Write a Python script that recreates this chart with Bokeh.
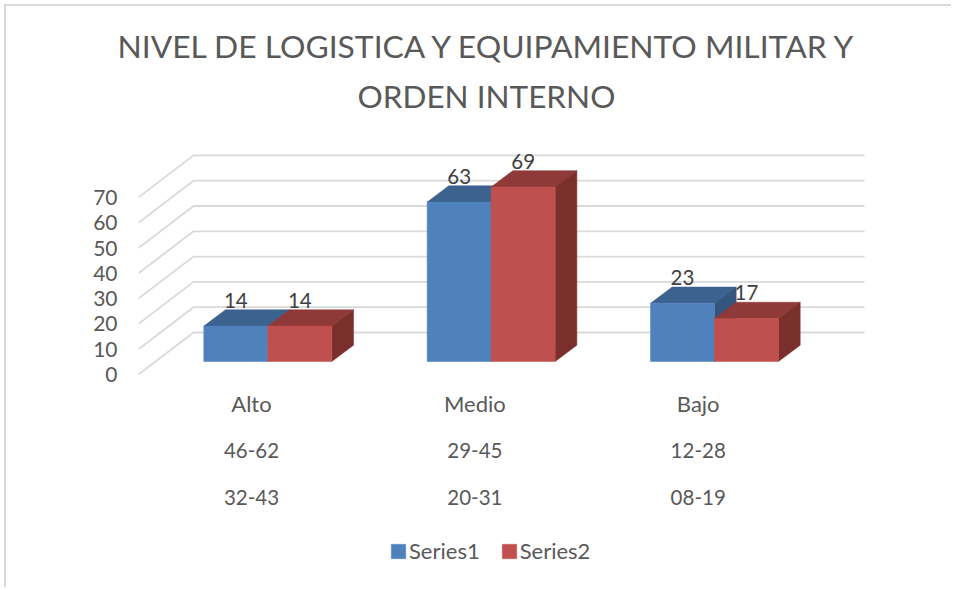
from bokeh.plotting import figure
from bokeh.embed import file_html
from bokeh.resources import INLINE
from bokeh.models import (Range1d, LinearAxis, FixedTicker, Title, Legend, LegendItem)
from bokeh.core.properties import value

# ---- data ----
title_lines = ["NIVEL DE LOGISTICA Y EQUIPAMIENTO MILITAR Y", "ORDEN INTERNO"]
categories = ["Alto", "Medio", "Bajo"]
range_row_1 = ["46-62", "29-45", "12-28"]
range_row_2 = ["32-43", "20-31", "08-19"]
series1 = [14, 63, 23]
series2 = [14, 69, 17]
y_ticks = [0, 10, 20, 30, 40, 50, 60, 70]

# ---- style / geometry (window pixels) ----
FONT = "Lato"
TXT = "#595959"
LAB = "#404040"
GRID = "#D9D9D9"
OX, OY = 6, 6          # where the figure's canvas starts in the window
PAGE_W, PAGE_H = 947, 583
PX_Y = 2.53           # pixels per value unit
PX_X = 223.35         # pixels per category
F_L, F_R, F_T, F_B = 138, 872, 140, 585   # frame in window pixels
ZERO_PX = 374         # window pixel of value 0 on the front edge
X0 = 251.0            # window pixel of category 0 label
x_of = lambda px: (px - X0) / PX_X
y_of = lambda px: (ZERO_PX - px) / PX_Y
xr = Range1d(x_of(F_L), x_of(F_R))
yr = Range1d(y_of(F_B), y_of(F_T))

WALL_DX = 55 / PX_X
WALL_DY = 42 / PX_Y
BACK_END = x_of(864)
BAR_W = 64 / PX_X
BAR_SHIFT = 16.3 / PX_X
BASE = (ZERO_PX - 361) / PX_Y
DEPTH_X = 21.7 / PX_X
DEPTH_Y = 16.3 / PX_Y

p = figure(width=PAGE_W, height=PAGE_H, x_range=xr, y_range=yr,
           output_backend="svg", toolbar_location=None,
           x_axis_location=None, y_axis_location=None,
           min_border_left=F_L - OX, min_border_top=F_T - OY,
           min_border_right=OX + PAGE_W - F_R, min_border_bottom=OY + PAGE_H - F_B,
           margin=(4, 0, 0, 4),
           styles={"border-top": "2px solid #D9D9D9", "border-left": "2px solid #D9D9D9"})
p.xgrid.visible = False
p.ygrid.visible = False
p.outline_line_color = None
p.background_fill_color = None
p.border_fill_color = None

# walls: side wall + back wall lines
xs, ys = [], []
x_front = x_of(F_L)
for t in y_ticks:
    xs.append([x_front, x_front + WALL_DX, BACK_END])
    ys.append([t, t + WALL_DY, t + WALL_DY])
p.multi_line(xs, ys, line_color=GRID, line_width=1.8)

# 3D bars
def bars(vals, offs, front, top, side):
    for i, v in enumerate(vals):
        l = i + BAR_SHIFT + offs * BAR_W
        r = l + BAR_W
        b = BASE
        t = v + BASE
        p.patch([l, l + DEPTH_X, r + DEPTH_X, r], [t, t + DEPTH_Y, t + DEPTH_Y, t],
                fill_color=top, line_color=top, line_width=0.5)
        p.patch([r, r + DEPTH_X, r + DEPTH_X, r], [b, b + DEPTH_Y, t + DEPTH_Y, t],
                fill_color=side, line_color=side, line_width=0.5)
    return p.quad(left=[i + BAR_SHIFT + offs * BAR_W for i in range(len(vals))],
                  right=[i + BAR_SHIFT + offs * BAR_W + BAR_W for i in range(len(vals))],
                  bottom=[BASE] * len(vals), top=[v + BASE for v in vals],
                  fill_color=front, line_color=front, line_width=0.5)

r1 = bars(series1, -1, "#4F81BD", "#3C628F", "#34567E")
r2 = bars(series2, 0, "#C0504D", "#8F3A38", "#7B2F2D")

# data labels
for vals, offs in ((series1, -1), (series2, 0)):
    p.text([i + BAR_SHIFT + (offs + 0.5) * BAR_W for i in range(3)],
           [v + BASE + DEPTH_Y for v in vals], text=[str(v) for v in vals],
           text_font=value(FONT), text_font_size="20.5px", text_color=LAB,
           text_align="center", text_baseline="bottom", y_offset=-2)

# y axis
ya = LinearAxis(ticker=FixedTicker(ticks=y_ticks), axis_line_color=None,
                major_tick_line_color=None, minor_tick_line_color=None,
                major_label_standoff=15, major_label_text_font=FONT,
                major_label_text_font_size="21px", major_label_text_color=TXT)
p.add_layout(ya, "left")

# category rows
for labels, row_px, size in ((categories, 403, "22px"), (range_row_1, 450, "20.5px"),
                             (range_row_2, 497, "20.5px")):
    p.text(list(range(len(labels))), [y_of(row_px)] * len(labels), text=labels,
           text_font=value(FONT), text_font_size=size, text_color=TXT,
           text_align="center", text_baseline="middle")

# title (two lines)
t2 = Title(text=title_lines[1], align="left", offset=219, standoff=52,
           text_font=FONT, text_font_size="31.5px", text_color=TXT, text_font_style="normal")
t1 = Title(text=title_lines[0], align="left", offset=-21, standoff=-32,
           text_font=FONT, text_font_size="31.8px", text_color=TXT, text_font_style="normal")
p.add_layout(t2, "above")
p.add_layout(t1, "above")

# legend
leg = Legend(items=[LegendItem(label="Series1", renderers=[r1]),
                    LegendItem(label="Series2", renderers=[r2])],
             orientation="horizontal", location=(389 - F_L, F_B - 564),
             border_line_color=None, background_fill_alpha=0,
             label_text_font=FONT, label_text_font_size="22px", label_text_color=TXT,
             glyph_width=18, glyph_height=18, label_standoff=2, spacing=20,
             padding=0, margin=0)
p.add_layout(leg, "center")

open("out.html", "w").write(file_html(p, INLINE))
